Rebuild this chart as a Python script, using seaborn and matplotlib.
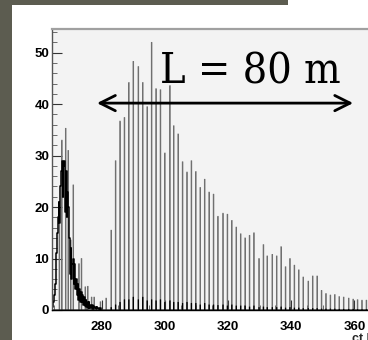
import numpy as np
import pandas as pd
import matplotlib
matplotlib.use("Agg")
import matplotlib.pyplot as plt
from matplotlib.patches import Rectangle
import seaborn as sns

# ---------------- data ----------------
# narrow spikes (grey comb), position in ct [m] and counts
spike_ct = [266.6, 267.4, 268.5, 269.3, 270.1, 271.0, 272.8, 273.5, 274.8, 275.5,
            276.8, 277.6, 279.5, 281.4,
            282.96, 284.33, 285.70, 287.18, 288.66, 290.03, 291.51, 292.99, 294.36, 295.84,
            297.21, 298.69, 300.06, 301.54, 302.81, 304.18, 305.55, 307.03, 308.41, 309.78,
            311.15, 312.63, 314.00, 315.48, 316.85, 318.33, 319.70, 321.18, 322.56, 324.03,
            325.41, 326.89, 328.26, 329.74, 331.11, 332.48, 333.96, 335.33, 336.81, 338.18,
            339.66, 341.03, 342.41, 343.88, 345.36, 346.74, 348.22, 349.59, 351.07, 352.44,
            353.81, 355.29, 356.66, 358.14, 359.51, 360.99, 362.37, 363.74]
spike_counts = [20.0, 33.0, 35.3, 31.0, 13.6, 24.3, 9.0, 10.0, 4.5, 4.6,
                2.5, 2.5, 1.6, 2.3,
                15.5, 29.0, 36.7, 37.4, 44.2, 48.3, 47.3, 44.2, 39.5, 52.0,
                43.0, 42.8, 30.5, 43.6, 35.8, 34.2, 28.8, 26.8, 29.0, 26.9,
                23.8, 25.4, 22.9, 22.5, 18.2, 18.8, 18.6, 17.4, 16.1, 14.8,
                14.0, 14.5, 15.0, 10.0, 12.7, 10.5, 10.8, 10.5, 12.3, 8.4,
                10.0, 8.7, 7.8, 6.4, 5.6, 6.6, 6.6, 3.8, 3.2, 2.9,
                3.0, 2.6, 2.5, 2.3, 2.1, 2.0, 1.9, 1.9]

# black component at the foot of the comb spikes
base_ct = spike_ct[14:]
base_counts = [0.5, 1.0, 1.5, 2.0, 2.0, 2.5, 2.0, 2.5, 1.8, 2.0,
               1.8, 2.0, 1.5, 1.8, 1.5, 1.5, 1.3, 1.5, 1.3, 1.3,
               1.0, 1.3, 1.0, 1.0, 0.9, 1.0, 0.8, 1.0, 0.8, 0.8,
               0.8, 0.6, 0.8, 0.5, 0.6, 0.5, 0.5, 0.5, 0.6, 0.4,
               0.5, 0.4, 0.4, 0.3, 0.3, 0.3, 0.3, 0.2, 0.2, 0.2,
               0.2, 0.15, 0.15, 0.15, 0.15, 0.1, 0.1, 0.1]

# first (black, dense) peak, fine bins
peak_ct = [264.50, 264.75, 265.00, 265.25, 265.50, 265.75, 266.00, 266.25, 266.50, 266.75,
           267.00, 267.25, 267.50, 267.75, 268.00, 268.25, 268.50, 268.75, 269.00, 269.25,
           269.50, 269.75, 270.00, 270.25, 270.50, 270.75, 271.00, 271.25, 271.50, 271.75,
           272.00, 272.25, 272.50, 272.75, 273.00, 273.25, 273.50, 273.75, 274.00, 274.25,
           274.50, 274.75, 275.00, 275.25, 275.50, 275.75, 276.00, 276.25, 276.50, 276.75,
           277.00, 277.25, 277.50, 277.75, 278.00, 278.25, 278.50, 278.75, 279.00, 279.50]
peak_counts = [0.5, 1.5, 3.0, 5.0, 8.0, 11.0, 15.0, 18.0, 21.0, 17.0,
               24.0, 27.0, 29.0, 22.0, 28.0, 29.0, 19.0, 27.0, 18.0, 23.0,
               20.0, 14.0, 7.0, 12.0, 6.0, 9.0, 10.0, 5.0, 9.0, 4.0,
               6.0, 3.0, 5.0, 2.0, 4.0, 1.5, 3.5, 1.5, 3.0, 1.0,
               2.5, 0.8, 2.0, 0.6, 1.5, 0.4, 1.5, 0.4, 1.0, 0.3,
               1.0, 0.2, 0.8, 0.3, 0.6, 0.2, 0.5, 0.3, 0.4, 0.3]

x_ticks = [280, 300, 320, 340, 360]
y_ticks = [0, 10, 20, 30, 40, 50]
x_label = "ct [m]"
note_text = "L = 80 m"
arrow_x = [278.5, 359.6]
arrow_y = 40.2

# ---------------- figure ----------------
sns.set_style("ticks")
plt.rcParams["font.family"] = ["Liberation Sans Narrow", "Liberation Sans", "DejaVu Sans"]

fig = plt.figure(figsize=(3.68, 3.40), dpi=100, facecolor="white")

# dark textured border strips of the slide
fig.add_artist(Rectangle((0, 0), 12 / 368, 1, transform=fig.transFigure,
                         facecolor="#5c5c50", edgecolor="none", zorder=0))
fig.add_artist(Rectangle((0, 1 - 5 / 340), 288 / 368, 5 / 340, transform=fig.transFigure,
                         facecolor="#5c5c50", edgecolor="none", zorder=0))

ax = fig.add_axes([52 / 368, 30 / 340, 334 / 368, 281 / 340])
ax.set_facecolor("#f3f3f3")

sns.histplot(x=spike_ct, weights=spike_counts, binwidth=0.2, binrange=(263.9, 370.1),
             element="step", fill=False, color="#707070", linewidth=0.6, ax=ax)
sns.histplot(x=base_ct, weights=base_counts, binwidth=0.2, binrange=(263.9, 370.1),
             element="step", fill=False, color="black", linewidth=0.5, ax=ax)
sns.histplot(x=peak_ct, weights=peak_counts, binwidth=0.25, binrange=(264.375, 279.875),
             element="step", fill=False, color="black", linewidth=1.1, ax=ax)

ax.set_xlim(264.26, 370)
ax.set_ylim(0, 54.6)
ax.set_xticks(x_ticks)
ax.set_yticks(y_ticks)
ax.set_xticks(np.arange(265, 371, 5), minor=True)
ax.set_yticks(np.arange(0, 55, 2), minor=True)
ax.set_ylabel("")
ax.set_xlabel(x_label, loc="right", fontsize=9, fontweight="bold", labelpad=0)

ax.tick_params(axis="both", which="major", direction="in", length=7, width=0.8,
               labelsize=9.5, colors="#333333")
ax.tick_params(axis="both", which="minor", direction="in", length=3.5, width=0.6,
               colors="#555555")
ax.tick_params(axis="y", which="major", pad=2)
ax.tick_params(axis="x", which="major", pad=8)
for lab in ax.get_xticklabels() + ax.get_yticklabels():
    lab.set_fontweight("bold")
    lab.set_color("black")

ax.spines["right"].set_visible(False)
ax.spines["top"].set_color("#a0a0a0")
ax.spines["top"].set_linewidth(1.6)
ax.spines["left"].set_color("#555555")
ax.spines["left"].set_linewidth(1.0)
ax.spines["bottom"].set_color("black")
ax.spines["bottom"].set_linewidth(1.0)

ax.annotate("", xy=(arrow_x[0], arrow_y), xytext=(arrow_x[1], arrow_y),
            arrowprops=dict(arrowstyle="<->, head_length=1.1, head_width=0.55",
                            mutation_scale=10, color="black", linewidth=2.0,
                            shrinkA=0, shrinkB=0))
ax.text(250 / 368, 1 - 83 / 340, note_text, transform=fig.transFigure, ha="center",
        va="baseline", fontsize=31, family="DejaVu Serif", fontstretch="condensed",
        color="black")

fig.savefig("out.png", dpi=100, facecolor="white")
